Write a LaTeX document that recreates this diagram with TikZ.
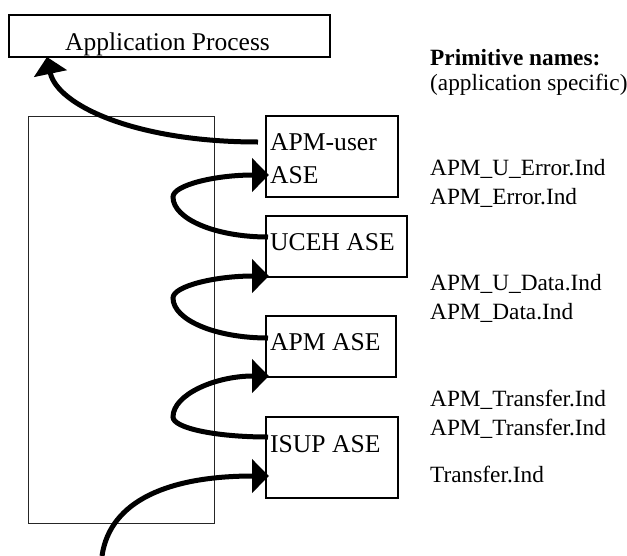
\documentclass[tikz,border=0pt]{standalone}
\usepackage{fontspec}
\setmainfont{Liberation Serif}
\usetikzlibrary{arrows.meta,calc}
\tikzset{
  box/.style={draw=black, line width=1.8pt, rectangle, inner sep=0pt, outer sep=0pt, anchor=north west},
  frame/.style={draw=black!85, line width=1pt, rectangle, inner sep=0pt, outer sep=0pt, anchor=north west},
  boxtext/.style={anchor=base west, inner sep=0pt, font=\fontsize{25.6pt}{30pt}\selectfont},
  apptext/.style={anchor=base, inner sep=0pt, font=\fontsize{25.5pt}{30pt}\selectfont},
  primtext/.style={anchor=base west, inner sep=0pt, font=\fontsize{23.3pt}{28pt}\selectfont},
  flow/.style={line width=5pt, -{Triangle[length=17pt,width=33pt]}}
}
\begin{document}
\begin{tikzpicture}[x=1pt,y=-1pt]
\useasboundingbox (0,0) rectangle (627,555);
% outer frame
\node[frame, minimum width=186pt, minimum height=407pt] (frame) at (28,116) {};
% boxes
\node[box, minimum width=321pt, minimum height=42pt] (app) at (9,15) {};
\node[apptext] (apptxt) at (167.5,50) {Application Process};
\node[box, minimum width=132pt, minimum height=81pt] (apmuser) at (266,116) {};
\node[boxtext] (apmusertxtA) at (270,150) {APM-user};
\node[boxtext] (apmusertxtB) at (270,183) {ASE};
\node[box, minimum width=141pt, minimum height=61pt] (uceh) at (266,216) {};
\node[boxtext] (ucehtxt) at (270,250) {UCEH ASE};
\node[box, minimum width=130pt, minimum height=61pt] (apm) at (266,316) {};
\node[boxtext] (apmtxt) at (270,350) {APM ASE};
\node[box, minimum width=132pt, minimum height=81pt] (isup) at (266,417) {};
\node[boxtext] (isuptxt) at (270,452) {ISUP ASE};
% primitive names
\node[primtext] (primhead) at (430,65) {\bfseries Primitive names:};
\node[primtext] (primsub) at (430,90) {(application specific)};
\node[primtext] (p1) at (430,175.5) {APM\_U\_Error.Ind};
\node[primtext] (p2) at (430,204) {APM\_Error.Ind};
\node[primtext] (p3) at (430,290) {APM\_U\_Data.Ind};
\node[primtext] (p4) at (430,319) {APM\_Data.Ind};
\node[primtext] (p5) at (430,406.5) {APM\_Transfer.Ind};
\node[primtext] (p6) at (430,435) {APM\_Transfer.Ind};
\node[primtext] (p7) at (430,482) {Transfer.Ind};
% connectors
\coordinate (src) at (102,556);
\draw[flow] ($(apmuser.north west)+(-8,26)$) .. controls (135,142) and (57,105) .. ($(app.south west)+(38,0)$);
\draw[flow] ($(uceh.north west)+(2,21)$) .. controls (215.5,237) and (173,219) .. (173,197) .. controls (173,185) and (215.5,175) .. ($(apmuser.north west)+(3,59)$);
\draw[flow] ($(apm.north west)+(2,22)$) .. controls (215.5,338) and (173,320) .. (173,298) .. controls (173,286) and (215.5,276) .. ($(uceh.south west)+(3,-1)$);
\draw[flow] ($(isup.north west)+(2,20)$) .. controls (215.5,437) and (173,428) .. (173,417) .. controls (173,394.4) and (215.5,376) .. ($(apm.south west)+(3,-1)$);
\draw[flow] (src) .. controls (110,500) and (170,476) .. ($(isup.north west)+(3,59)$);
\end{tikzpicture}
\end{document}
